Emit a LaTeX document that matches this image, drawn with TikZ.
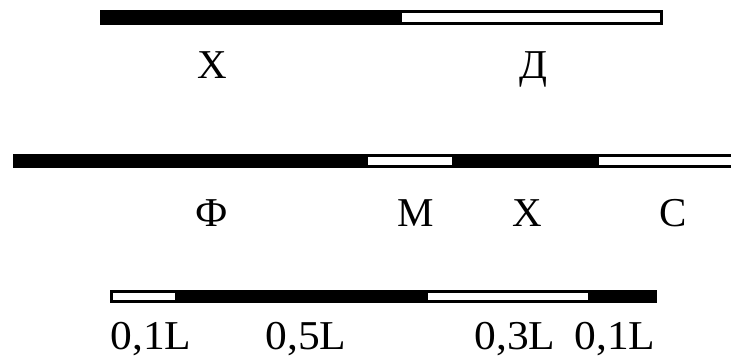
\documentclass[tikz,border=0pt]{standalone}
\usepackage{fontspec}
\setmainfont{Liberation Serif}
\begin{document}
\begin{tikzpicture}[x=1pt,y=-1pt,
  blk/.style={fill=black,draw=none},
  wht/.style={fill=white,draw=none},
  lab/.style={font=\fontsize{41}{44}\selectfont,inner sep=0pt,anchor=base}]
\useasboundingbox (0,0) rectangle (731,361);
% bar 1
\fill[blk] (100,10) rectangle (663,25);
\fill[wht] (402,13) rectangle (660,22);
% bar 2
\fill[blk] (13,154) rectangle (731,168);
\fill[wht] (368,157) rectangle (452,165);
\fill[wht] (599,157) rectangle (731,165);
% bar 3
\fill[blk] (110,290) rectangle (657,303);
\fill[wht] (113,293) rectangle (175,300);
\fill[wht] (428,293) rectangle (588,300);
% labels
\node[lab] (x1) at (212,78) {Х};
\node[lab] (d) at (533,78) {Д};
\node[lab] (f) at (212,226) {Ф};
\node[lab] (m) at (416,226) {М};
\node[lab] (x2) at (527,226) {Х};
\node[lab] (s) at (673,226) {С};
\node[lab,xscale=1.06] (a) at (151,349) {0,1L};
\node[lab,xscale=1.06] (b) at (306,349) {0,5L};
\node[lab,xscale=1.06] (c) at (515,349) {0,3L};
\node[lab,xscale=1.06] (e) at (615,349) {0,1L};
\end{tikzpicture}
\end{document}
